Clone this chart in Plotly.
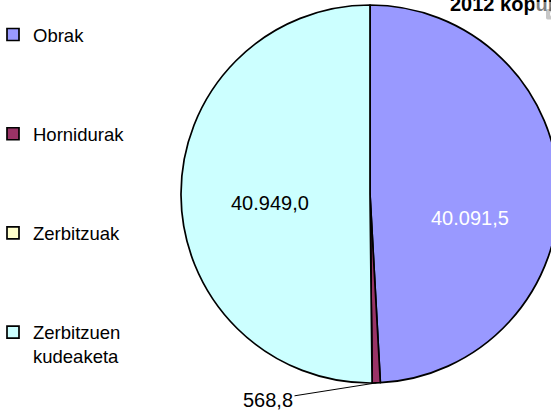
import math
import plotly.graph_objects as go

# ---- data ----
categories = ["Obrak", "Hornidurak", "Zerbitzuak", "Zerbitzuen kudeaketa"]
values = [40091.5, 568.8, 0.0, 40949.0]
title_text = "2012 kopurua"

# ---- styling ----
colors = ["#9999FF", "#993366", "#FFFFCC", "#CCFFFF"]
text_colors = ["white", "black", "black", "black"]
# label placement (pixel offset from pie centre) for the two large slices
label_offsets = [(100, 24), None, None, (-100, 9)]
FONT = "Arial, Liberation Sans, sans-serif"

W, H = 600, 410
cx, cy, R = 370, 194, 189


def eu(v):
    s = f"{v:,.1f}"
    return s.replace(",", "X").replace(".", ",").replace("X", ".")


# legend labels: wrap long names, pad short ones with blank lines for spacing
legend_labels = []
for c in categories:
    words = c.split(" ")
    lab = "<br>".join(words)
    if len(words) == 1:
        lab += "<br>&nbsp;" * 3
    legend_labels.append(lab)

fig = go.Figure(
    go.Pie(
        labels=legend_labels,
        values=values,
        sort=False,
        direction="clockwise",
        rotation=0,
        marker=dict(colors=colors, line=dict(color="black", width=1.7)),
        textinfo="none",
        domain=dict(x=[(cx - R) / W, (cx + R) / W], y=[1 - (cy + R) / H, 1 - (cy - R) / H]),
        hoverinfo="skip",
    )
)

# value labels inside the large slices
for v, off, col in zip(values, label_offsets, text_colors):
    if off is None:
        continue
    fig.add_annotation(
        x=(cx + off[0]) / W, y=1 - (cy + off[1]) / H, xref="paper", yref="paper",
        text=eu(v), showarrow=False, xanchor="center", yanchor="middle",
        font=dict(family=FONT, size=20, color=col),
    )

# leader label for the small slice
total = sum(values)
theta = math.radians((values[0] + values[1] / 2) / total * 360)
px = cx + R * math.sin(theta)
py = cy - R * math.cos(theta)
fig.add_annotation(
    x=px / W, y=1 - py / H, xref="paper", yref="paper",
    text=eu(values[1]), showarrow=True, arrowhead=0, arrowwidth=1, arrowcolor="black",
    standoff=0, ax=268 - px, ay=400 - py,
    font=dict(family=FONT, size=20, color="black"),
)

# title (cut off at right edge as in the reference)
fig.add_annotation(
    x=448 / W, y=1 - 4 / H, xref="paper", yref="paper", xanchor="left", yanchor="middle",
    text="<b>" + title_text + "</b>", showarrow=False,
    font=dict(family=FONT, size=20, color="black"),
)

fig.update_layout(
    width=W, height=H,
    margin=dict(l=0, r=0, t=0, b=0, autoexpand=False),
    paper_bgcolor="white", plot_bgcolor="white",
    separators=",.",
    showlegend=True,
    legend=dict(
        x=-7 / W, y=1 - 16 / H, xanchor="left", yanchor="top", xref="paper", yref="paper",
        valign="top", font=dict(family=FONT, size=18.5, color="black"),
        bgcolor="rgba(0,0,0,0)", borderwidth=0,
    ),
)

fig.write_html(
    "out.html",
    post_script="document.body.style.margin='0';document.body.style.overflow='hidden';document.documentElement.style.overflow='hidden';",
)
